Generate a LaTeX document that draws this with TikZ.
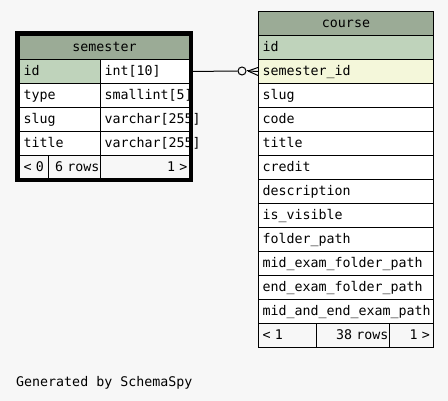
\documentclass[tikz,border=0pt]{standalone}
\usepackage{fontspec}
\newfontfamily\mono{DejaVu Sans Mono}
\usetikzlibrary{calc}
\definecolor{bg}{HTML}{F7F7F7}
\definecolor{hdr}{HTML}{9BAB96}
\definecolor{pk}{HTML}{BFD3BB}
\definecolor{fk}{HTML}{F4F7DA}
\begin{document}
\begin{tikzpicture}[x=1pt,y=-1pt,
  txt/.style={font=\mono\fontsize{13.3}{14}\selectfont},
  cell/.style={txt, draw=black, line width=1pt, fill=white, inner xsep=4pt, inner ysep=0pt,
    minimum height=24pt, text height=10.5pt, text depth=1.5pt, anchor=north west, align=left},
  hcell/.style={cell, fill=hdr, align=center},
  foot/.style={cell, fill=bg},
  rfoot/.style={foot, align=right},
  rel/.style={line width=1pt, draw=black}]
\useasboundingbox[fill=bg] (0,0) rectangle (448,401);

% ---- semester table ----
\node[hcell, minimum width=170pt, text width=162pt] (sh) at (19,35) {semester};
\node[cell, fill=pk, minimum width=81pt, text width=73pt] (s1a) at (19,59) {id};
\node[cell, minimum width=89pt, text width=81pt] (s1b) at (100,59) {int[10]};
\node[cell, minimum width=81pt, text width=73pt] (s2a) at (19,83) {type};
\node[cell, minimum width=89pt, text width=81pt] (s2b) at (100,83) {smallint[5]};
\node[cell, minimum width=81pt, text width=73pt] (s3a) at (19,107) {slug};
\node[cell, minimum width=89pt, text width=81pt] (s3b) at (100,107) {varchar[255]};
\node[cell, minimum width=81pt, text width=73pt] (s4a) at (19,131) {title};
\node[cell, minimum width=89pt, text width=81pt] (s4b) at (100,131) {varchar[255]};
\node[foot, minimum width=29pt, text width=21pt] (s5a) at (19,155) {<~0};
\node[rfoot, inner xsep=1pt, minimum width=52pt, text width=50pt] (s5b) at (48,155) {6~rows};
\node[rfoot, inner xsep=2pt, minimum width=89pt, text width=85pt] (s5c) at (100,155) {1~>};
\draw[line width=4pt] (17,33) rectangle (191,180);

% ---- course table ----
\node[hcell, minimum width=175pt, text width=167pt] (ch) at (258,11) {course};
\node[cell, fill=pk, minimum width=175pt, text width=167pt] (c1) at (258,35) {id};
\node[cell, fill=fk, minimum width=175pt, text width=167pt] (c2) at (258,59) {semester\_id};
\node[cell, minimum width=175pt, text width=167pt] (c3) at (258,83) {slug};
\node[cell, minimum width=175pt, text width=167pt] (c4) at (258,107) {code};
\node[cell, minimum width=175pt, text width=167pt] (c5) at (258,131) {title};
\node[cell, minimum width=175pt, text width=167pt] (c6) at (258,155) {credit};
\node[cell, minimum width=175pt, text width=167pt] (c7) at (258,179) {description};
\node[cell, minimum width=175pt, text width=167pt] (c8) at (258,203) {is\_visible};
\node[cell, minimum width=175pt, text width=167pt] (c9) at (258,227) {folder\_path};
\node[cell, minimum width=175pt, text width=167pt] (c10) at (258,251) {mid\_exam\_folder\_path};
\node[cell, minimum width=175pt, text width=167pt] (c11) at (258,275) {end\_exam\_folder\_path};
\node[cell, minimum width=175pt, text width=167pt] (c12) at (258,299) {mid\_and\_end\_exam\_path};
\node[foot, minimum width=58pt, text width=50pt] (cf1) at (258,323) {<~1};
\node[rfoot, inner xsep=1pt, minimum width=73pt, text width=71pt] (cf2) at (316,323) {38~rows};
\node[rfoot, inner xsep=3.5pt, minimum width=44pt, text width=37pt] (cf3) at (389,323) {1~>};

% ---- relation ----
\node[circle, draw=black, line width=1pt, fill=bg, minimum size=8pt, inner sep=0pt] (circ) at (242,71) {};
\coordinate (toe) at (248,71);
\draw[rel] (s1b.east) -- (circ.west);
\draw[rel] (circ.east) -- (toe);
\draw[rel] (toe) -- ($(c2.west)+(0,-4)$);
\draw[rel] (toe) -- (c2.west);
\draw[rel] (toe) -- ($(c2.west)+(0,4)$);

\node[txt, anchor=base west, inner sep=0pt] (gen) at (16,387) {Generated by SchemaSpy};
\end{tikzpicture}
\end{document}
